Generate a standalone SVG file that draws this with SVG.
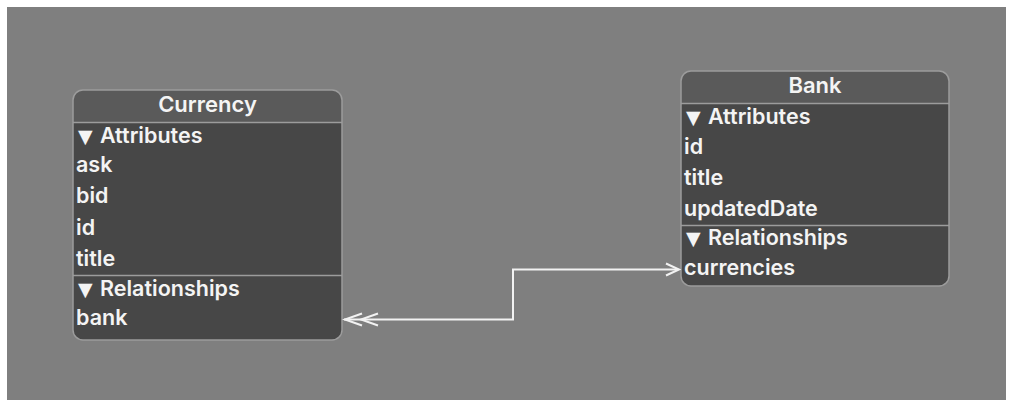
<svg xmlns="http://www.w3.org/2000/svg" width="1012" height="407" viewBox="0 0 1012 407">
<style>
.body{fill:#474747}
.head{fill:#5a5a5a}
.border{fill:none;stroke:#9c9c9c;stroke-width:1.5}
.div{stroke:#9c9c9c;stroke-width:1.5}
text{font-family:Inter,"Liberation Sans",sans-serif;font-weight:600;font-size:21.5px;fill:#f4f4f4}
.title{text-anchor:middle;font-size:22px}
.tri{font-size:19px;font-family:"DejaVu Sans",sans-serif}
.conn{fill:none;stroke:#f2f2f2;stroke-width:2}
</style>
<rect width="1012" height="407" fill="#ffffff"/>
<rect x="7" y="7" width="999" height="393" fill="#7f7f7f"/>
<g id="currency">
<rect class="body" x="73" y="90" width="269" height="250" rx="10"/>
<path class="head" d="M73,122.5 V100 A10,10 0 0 1 83,90 H332 A10,10 0 0 1 342,100 V122.5 Z"/>
<line class="div" x1="73" y1="122.5" x2="342" y2="122.5"/>
<line class="div" x1="73" y1="275.5" x2="342" y2="275.5"/>
<rect class="border" x="73" y="90" width="269" height="250" rx="10"/>
<text class="title" x="207.5" y="112">Currency</text>
<text x="78" y="143"><tspan class="tri">▼</tspan><tspan x="100">Attributes</tspan></text>
<text x="76" y="172">ask</text>
<text x="76" y="203">bid</text>
<text x="76" y="235">id</text>
<text x="76" y="266">title</text>
<text x="78" y="296"><tspan class="tri">▼</tspan><tspan x="100">Relationships</tspan></text>
<text x="76" y="325">bank</text>
</g>
<g id="bank">
<rect class="body" x="681" y="71" width="268" height="215" rx="10"/>
<path class="head" d="M681,103.5 V81 A10,10 0 0 1 691,71 H939 A10,10 0 0 1 949,81 V103.5 Z"/>
<line class="div" x1="681" y1="103.5" x2="949" y2="103.5"/>
<line class="div" x1="681" y1="225.5" x2="949" y2="225.5"/>
<rect class="border" x="681" y="71" width="268" height="215" rx="10"/>
<text class="title" x="815" y="93">Bank</text>
<text x="686" y="124"><tspan class="tri">▼</tspan><tspan x="708">Attributes</tspan></text>
<text x="684" y="154">id</text>
<text x="684" y="185">title</text>
<text x="684" y="216">updatedDate</text>
<text x="686" y="245"><tspan class="tri">▼</tspan><tspan x="708">Relationships</tspan></text>
<text x="684" y="275">currencies</text>
</g>
<g id="connectors">
<polyline class="conn" points="344,319.5 513,319.5 513,269.5 678,269.5"/>
<polyline class="conn" points="362,313.5 345,319.5 362,325.5"/>
<polyline class="conn" points="378,313.5 361,319.5 378,325.5"/>
<polyline class="conn" points="666,263.5 679,269.5 666,275.5"/>
</g>
</svg>
